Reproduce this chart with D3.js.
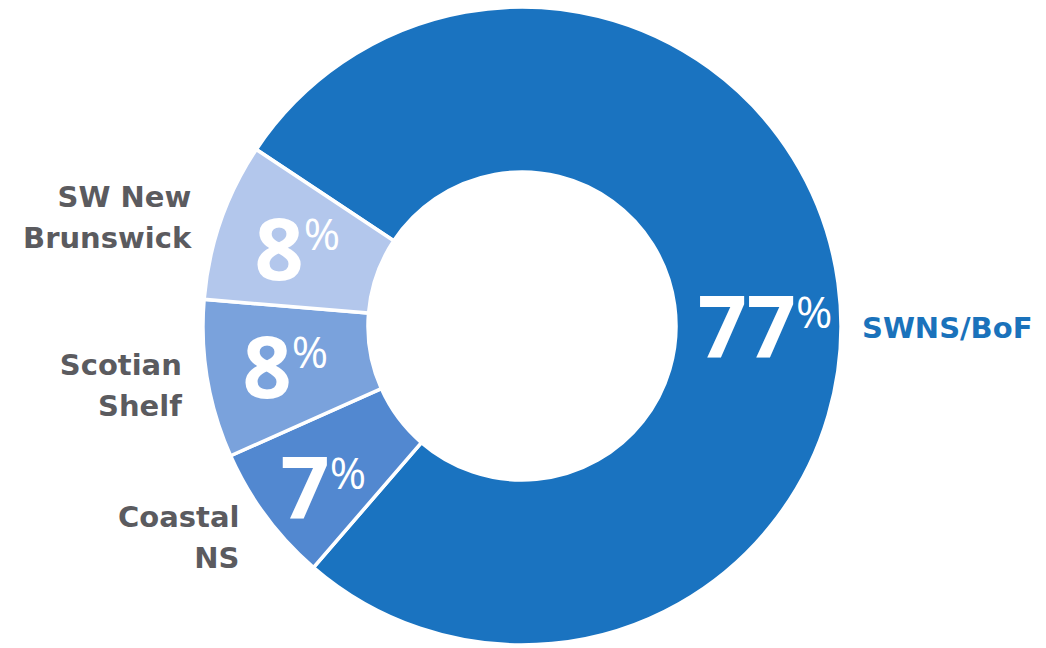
<!DOCTYPE html>
<html>
<head>
<meta charset="utf-8">
<script src="https://cdn.jsdelivr.net/npm/d3@7"></script>
<style>
  html, body { margin: 0; padding: 0; background: #ffffff; }
  svg { display: block; }
</style>
</head>
<body>
<svg id="chart" width="1046" height="648"></svg>
<script>
// ---- data ----
const categories = ["SWNS/BoF", "Coastal NS", "Scotian Shelf", "SW New Brunswick"];
const labelLines = [["SWNS/BoF"], ["Coastal", "NS"], ["Scotian", "Shelf"], ["SW New", "Brunswick"]];
const values = [77, 7, 8, 8];
const colors = ["#1a73c0", "#5288d0", "#7aa2dc", "#b3c7ec"];

// ---- layout ----
const cx = 522, cy = 326;
const rOuter = 319, rInner = 154;
const startDeg = -56.4;

const svg = d3.select("#chart");
const g = svg.append("g").attr("transform", `translate(${cx},${cy})`);

const data = categories.map((c, i) => ({ name: c, value: values[i], lines: labelLines[i], color: colors[i] }));

const pie = d3.pie()
  .value(d => d.value)
  .sort(null)
  .startAngle(startDeg * Math.PI / 180)
  .endAngle(startDeg * Math.PI / 180 + 2 * Math.PI);

const arcs = pie(data);
const arc = d3.arc().innerRadius(rInner).outerRadius(rOuter);

g.selectAll("path.slice")
  .data(arcs)
  .join("path")
  .attr("class", "slice")
  .attr("d", arc)
  .attr("fill", d => d.data.color)
  .attr("stroke", "#ffffff")
  .attr("stroke-width", 3.5)
  .attr("stroke-linejoin", "miter");

function midAngle(d, i) {
  // the large slice carries its label at the right-hand side
  return i === 0 ? Math.PI / 2 : (d.startAngle + d.endAngle) / 2;
}
function polar(a, r) { return [r * Math.sin(a), -r * Math.cos(a)]; }
const pctRadius = [243, 256, 240, 238];
const pctNudge = [0, -2.5, 0, 0].map(v => v * Math.PI / 180);

// percentage labels
const pct = g.selectAll("text.pct")
  .data(arcs)
  .join("text")
  .attr("class", "pct")
  .attr("text-anchor", "middle")
  .attr("fill", "#ffffff")
  .style("font-family", "'Open Sans', Lato, sans-serif")
  .attr("x", (d, i) => polar(midAngle(d, i) + pctNudge[i], pctRadius[i])[0])
  .attr("y", (d, i) => polar(midAngle(d, i) + pctNudge[i], pctRadius[i])[1] + 32);

pct.append("tspan")
  .style("font-weight", "700")
  .style("font-size", "86px")
  .text(d => d.data.value);
pct.append("tspan")
  .style("font-weight", "400")
  .style("font-size", "44px")
  .attr("dy", -30)
  .text("%");

// category labels
const labRadius = [340, 352, 345, 345];
g.selectAll("text.lab")
  .data(arcs)
  .join("text")
  .attr("class", "lab")
  .style("font-family", "'DejaVu Sans', sans-serif")
  .style("font-weight", "700")
  .style("font-size", "29px")
  .attr("fill", (d, i) => i === 0 ? "#1a72bb" : "#5b5b5f")
  .attr("text-anchor", (d, i) => i === 0 ? "start" : "end")
  .each(function (d, i) {
    const a = midAngle(d, i);
    const [x, y] = polar(a, labRadius[i]);
    const n = d.data.lines.length;
    const lh = 41;
    const y0 = y - (n - 1) * lh / 2 + 12;
    d3.select(this).selectAll("tspan")
      .data(d.data.lines)
      .join("tspan")
      .attr("x", i === 3 ? x - 5 : x)
      .attr("y", (t, k) => y0 + k * lh + (i === 3 ? 3 : 0))
      .text(t => t);
  });
</script>
</body>
</html>
